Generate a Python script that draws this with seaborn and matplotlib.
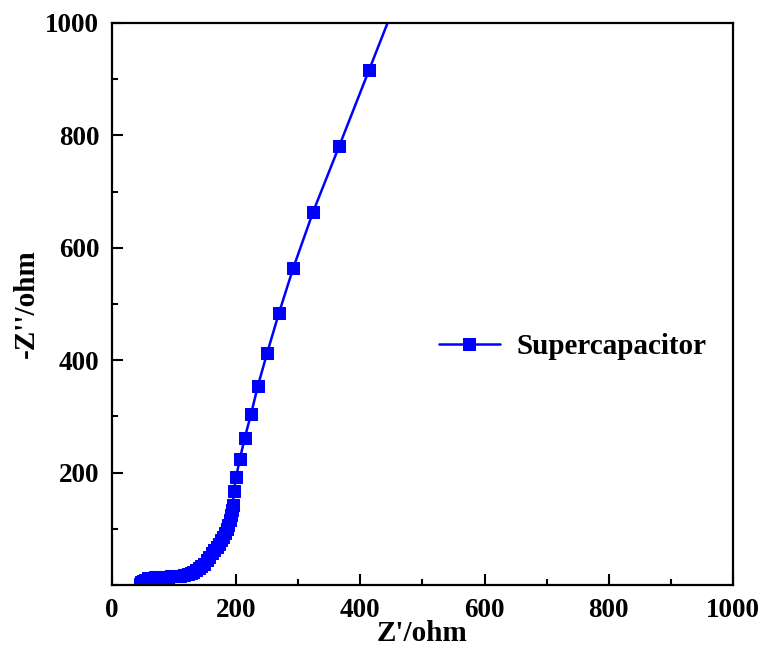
import matplotlib
matplotlib.use("Agg")
import matplotlib.pyplot as plt
import seaborn as sns
import pandas as pd
from matplotlib.ticker import MultipleLocator, FixedLocator

# Data (ohm)
z_real = [45, 47, 50, 54, 58, 63, 69, 75, 82, 89, 96, 103, 110, 116, 122, 127,
          131, 136, 140, 144, 148, 153, 157, 161, 165, 169, 173, 176, 179, 182,
          185, 187, 190, 192, 194, 195, 196, 200, 206, 214, 224, 235, 250, 269,
          292, 324, 366, 414, 469]
z_imag = [2, 5, 8, 10, 12, 13, 14, 14, 15, 15, 16, 16, 17, 18, 20, 22,
          24, 27, 30, 34, 38, 44, 50, 57, 62, 68, 74, 80, 86, 93,
          100, 107, 116, 125, 134, 142, 167, 192, 224, 262, 304, 354, 413, 484,
          564, 664, 781, 916, 1071]
series_name = "Supercapacitor"
x_ticks = [0, 200, 400, 600, 800, 1000]
y_ticks = [200, 400, 600, 800, 1000]

df = pd.DataFrame({"zr": z_real, "zi": z_imag})

sns.set_style("ticks")
plt.rcParams["font.family"] = ["Liberation Serif", "DejaVu Serif"]
plt.rcParams["font.weight"] = "bold"
plt.rcParams["text.color"] = "black"
plt.rcParams["axes.labelcolor"] = "black"
plt.rcParams["xtick.color"] = "black"
plt.rcParams["ytick.color"] = "black"

fig = plt.figure(figsize=(7.66, 6.56), dpi=100)
ax = fig.add_axes([0.146, 0.108, 0.811, 0.857])

sns.lineplot(data=df, x="zr", y="zi", sort=False, ax=ax, color="#0000FF",
             marker="s", markersize=8, markeredgecolor="#0000FF",
             markerfacecolor="#0000FF", linewidth=1.8, label=series_name)

ax.set_xlim(0, 1000)
ax.set_ylim(0, 1000)
ax.xaxis.set_major_locator(FixedLocator(x_ticks))
ax.yaxis.set_major_locator(FixedLocator(y_ticks))
ax.xaxis.set_minor_locator(MultipleLocator(100))
ax.yaxis.set_minor_locator(MultipleLocator(100))
ax.tick_params(which="both", direction="in", top=False, right=False,
               width=1.5, color="black", labelcolor="black")
ax.tick_params(which="major", length=8, labelsize=19.5)
ax.tick_params(axis="y", which="major", pad=9)
ax.tick_params(axis="x", which="major", pad=9)
ax.tick_params(which="minor", length=4.5)
for lab in ax.get_xticklabels() + ax.get_yticklabels():
    lab.set_fontweight("bold")

for sp in ax.spines.values():
    sp.set_visible(True)
    sp.set_linewidth(1.6)
    sp.set_color("black")

ax.set_xlabel("Z'/ohm", fontsize=21, fontweight="bold", labelpad=-2, color="black")
ax.set_ylabel("-Z''/ohm", fontsize=21, fontweight="bold", labelpad=4, color="black")

leg = ax.legend(loc="center left", bbox_to_anchor=(0.526, 0.424), frameon=False,
                prop={"size": 21, "weight": "bold"}, handlelength=2.1,
                handletextpad=0.58, borderpad=0, borderaxespad=0)
for t in leg.get_texts():
    t.set_color("black")

fig.savefig("out.png", dpi=100, facecolor="white")
